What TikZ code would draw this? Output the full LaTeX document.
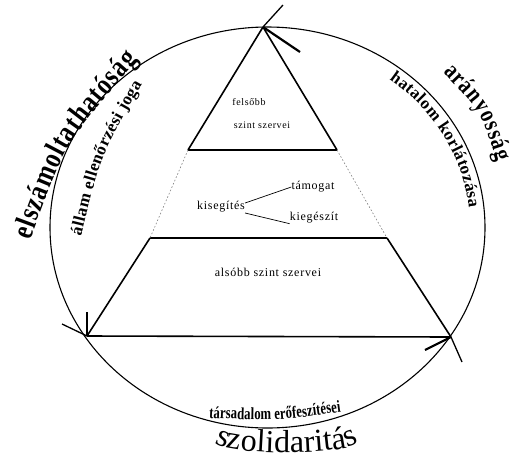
\documentclass[tikz,border=0pt]{standalone}
\usepackage{fontspec}
\setmainfont{Liberation Serif}
\newfontfamily\wordartfont[FakeStretch=0.8]{Liberation Serif}
\newfontfamily\narrowfont[FakeStretch=0.75]{Liberation Serif}
\newfontfamily\boxfont[LetterSpace=6]{Liberation Serif}
\usetikzlibrary{decorations.text}

\tikzset{
    alongarc/.style 2 args={decorate,decoration={text along path,
        text align={fit to path},text={|#1|#2}}},
    boxtext/.style={inner sep=0pt,font=\boxfont\fontsize{12}{14}\selectfont}
}

\begin{document}
\begin{tikzpicture}[x=1pt,y=-1pt]
        \useasboundingbox (0,0) rectangle (517,475);
        \coordinate (c) at (267.5,227.5);
        \draw[line width=1.1pt] (c) ellipse [x radius=217.5pt, y radius=200.5pt];
        \coordinate (apex) at (263,27);
        \coordinate (tl) at (188,150);
        \coordinate (tr) at (337,150);
        \coordinate (ml) at (150,238);
        \coordinate (mr) at (387,238);
        \coordinate (bl) at (87,336);
        \coordinate (br) at (451,337);
        \coordinate (a1) at (283,5);
        \coordinate (a2) at (300,52);
        \coordinate (l1) at (87,312);
        \coordinate (l2) at (62,324);
        \coordinate (r1) at (425,350);
        \coordinate (r2) at (462,362);
        \begin{scope}[every edge/.style={draw,line width=1.6pt}]
            \path
                (apex) edge (tl)
                (apex) edge (tr)
                (tl) edge (tr)
                (ml) edge (mr)
                (ml) edge (bl)
                (mr) edge (br)
                (bl) edge (br);
            \path
                (tl) edge[gray,dotted,line width=0.6pt] (ml)
                (tr) edge[gray,dotted,line width=0.6pt] (mr);
            \path
                (apex) edge[line width=2.2pt] (a2)
                (apex) edge[line width=1.3pt] (a1)
                (bl) edge[line width=2.2pt] (l1)
                (bl) edge[line width=1.3pt] (l2)
                (br) edge[line width=2.2pt] (r1)
                (br) edge[line width=1.3pt] (r2);
        \end{scope}
        \begin{scope}[every node/.style={boxtext}]
            \node[font=\boxfont\fontsize{10}{12}\selectfont] (felsobb) at (249,102) {felsőbb};
            \node[font=\boxfont\fontsize{10}{12}\selectfont] (szint) at (262,125) {szint szervei};
            \node (kisegites) at (221,207) {kisegítés};
            \node (tamogat) at (313,187) {támogat};
            \node (kiegeszit) at (314,218) {kiegészít};
            \node (also) at (268,272) {alsóbb szint szervei};
        \end{scope}
        \path[line width=0.7pt]
            ([yshift=4pt]kisegites.east) edge (tamogat.west)
            ([yshift=-6pt]kisegites.east) edge (kiegeszit.south west);
        \path[alongarc={\wordartfont\bfseries\fontsize{30}{30}\selectfont}{elszámoltathatóság}]
            (30,240) .. controls (66,142) .. (138,60);
        \path[alongarc={\wordartfont\bfseries\fontsize{25}{25}\selectfont}{arányosság}]
            (443,72) .. controls (480,110) .. (497,162);
        \path[alongarc={\fontsize{32}{32}\selectfont}{szolidaritás}]
            (215,442) .. controls (222,456) and (350,456) .. (358,442);
        \path[alongarc={\bfseries\fontsize{17}{17}\selectfont}{állam ellenőrzési joga}]
            (81,236) .. controls (101,155) .. (142,84);
        \path[alongarc={\bfseries\fontsize{17}{17}\selectfont}{hatalom korlátozása}]
            ([shift={(53:202.5pt and 185.5pt)}]c) arc[start angle=53, end angle=6, x radius=202.5pt, y radius=185.5pt];
        \path[alongarc={\narrowfont\bfseries\fontsize{17}{17}\selectfont}{társadalom erőfeszítései}]
            (209,418) .. controls (275,421) .. (341,412);
\end{tikzpicture}
\end{document}
